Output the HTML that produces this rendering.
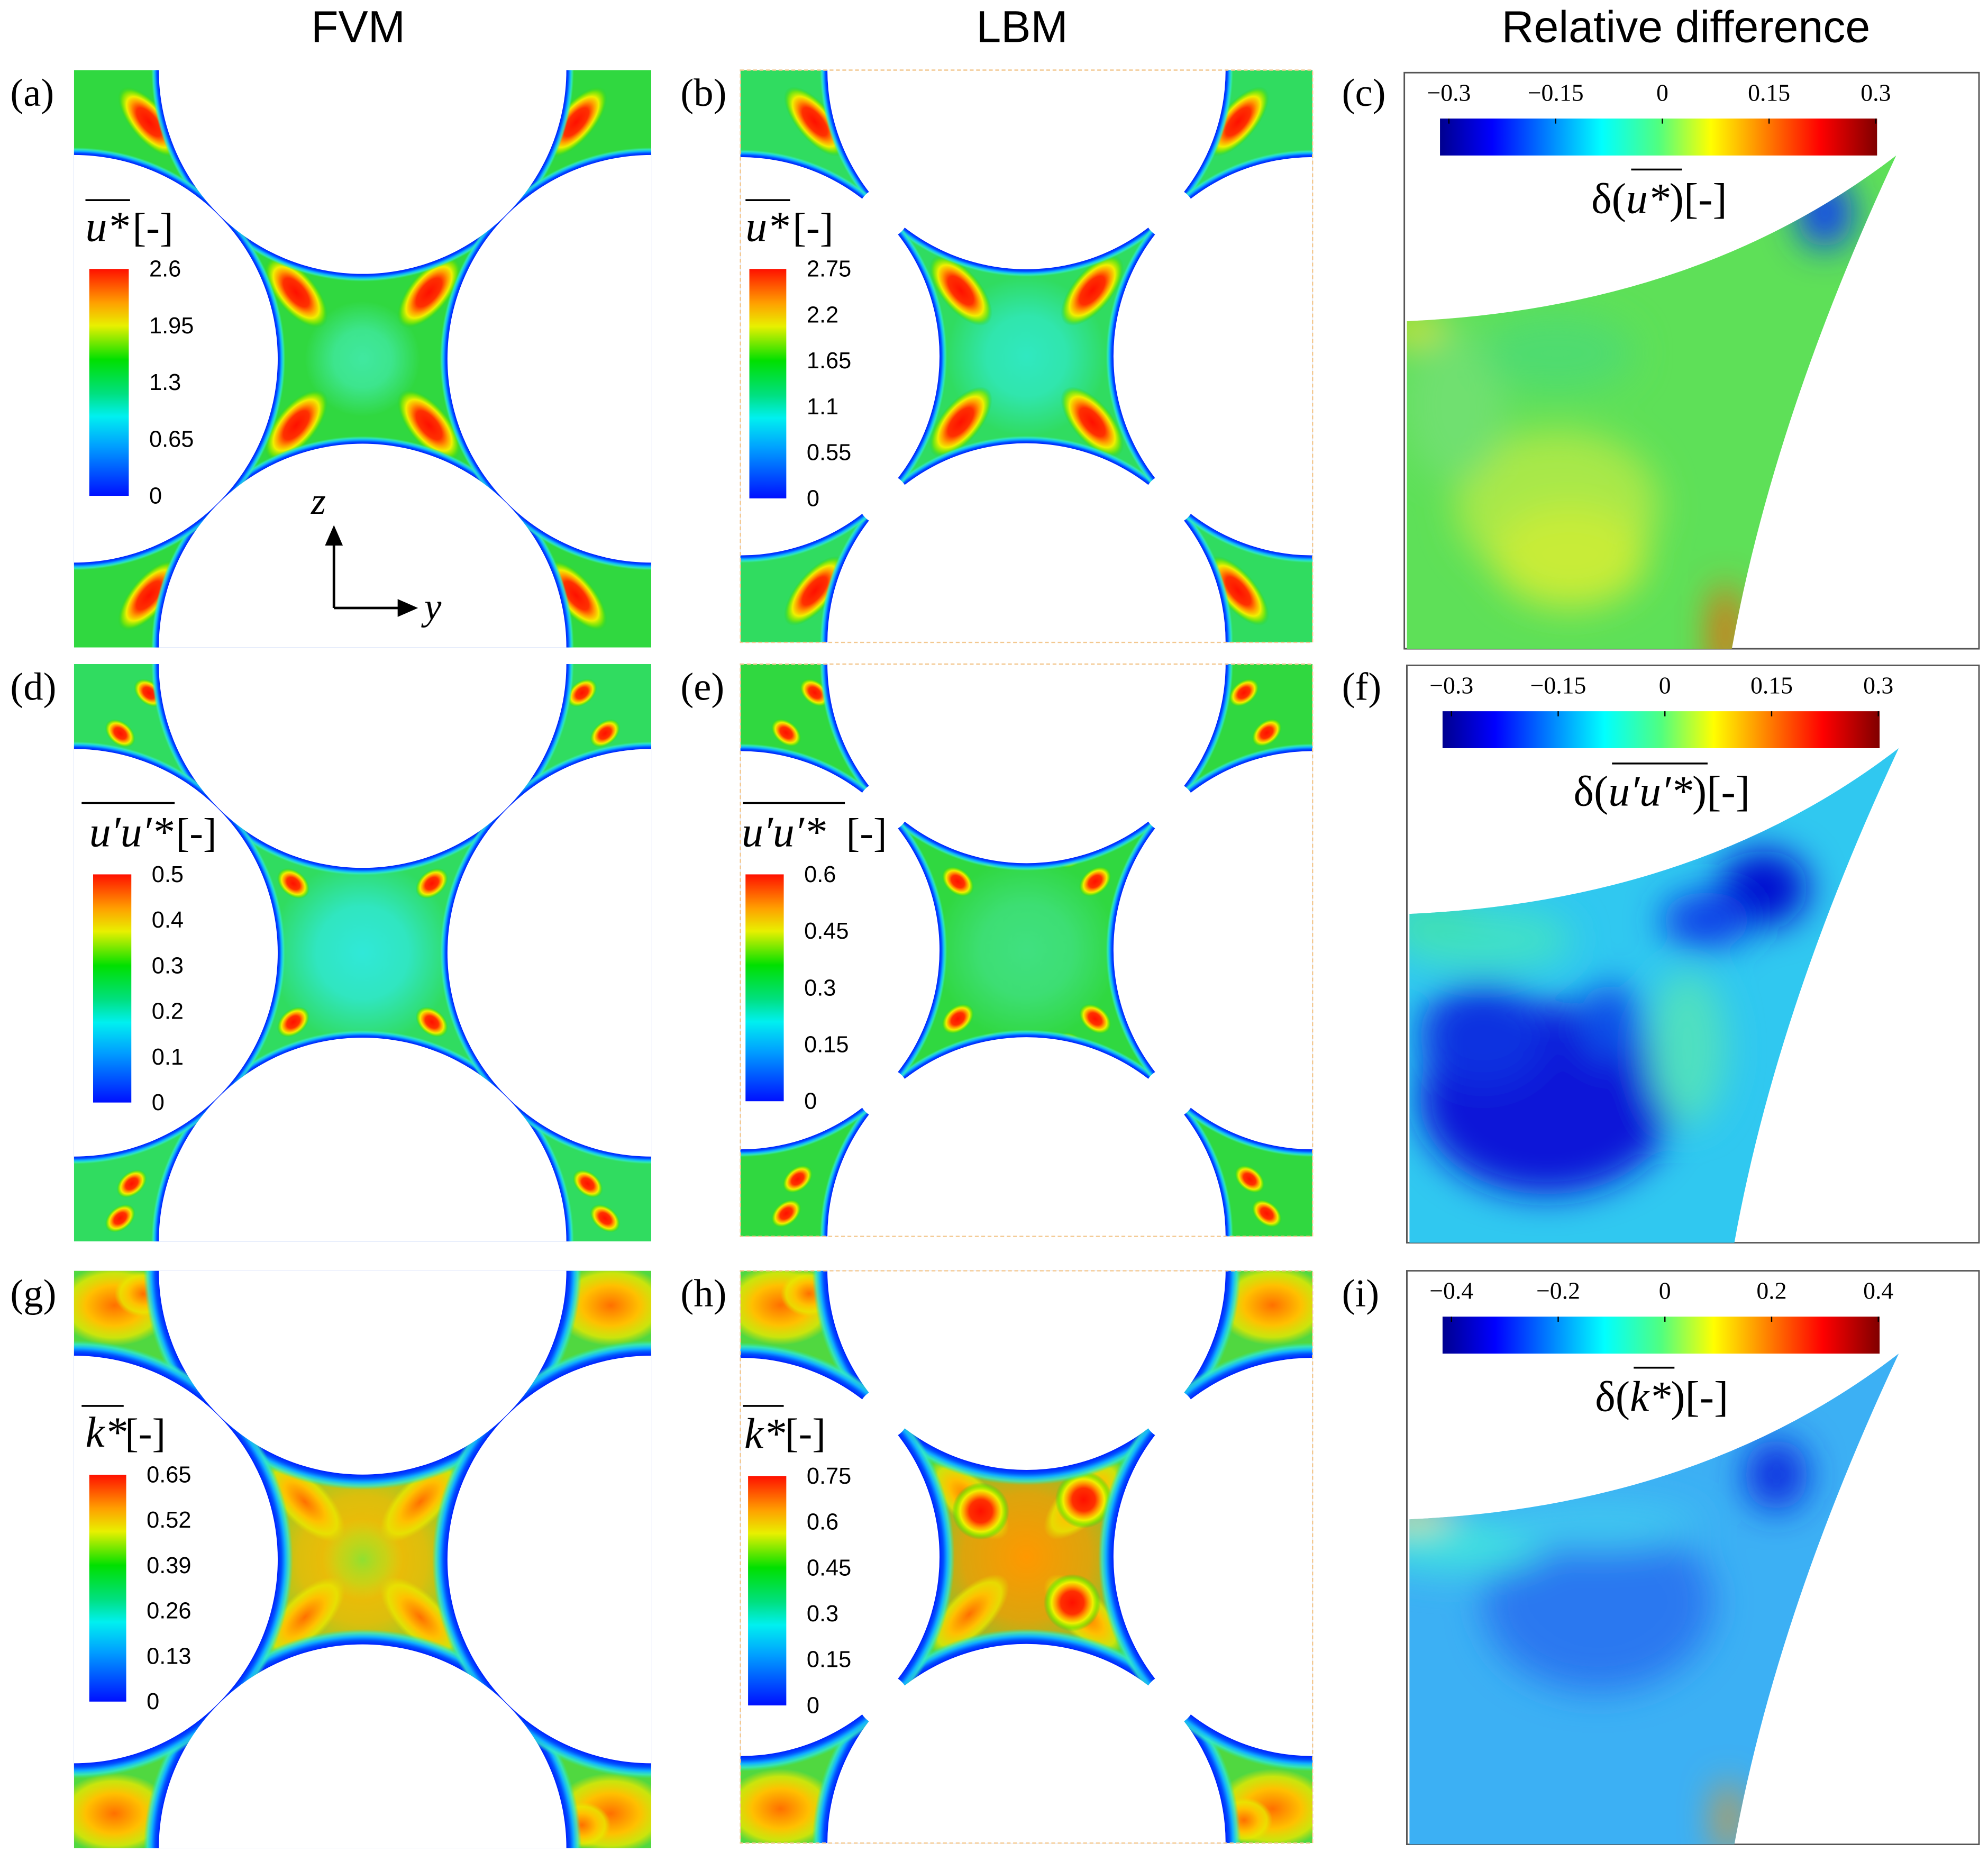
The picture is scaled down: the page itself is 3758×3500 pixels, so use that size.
<!DOCTYPE html>
<html><head><meta charset="utf-8"><style>
html,body{margin:0;padding:0;background:#fff;overflow:hidden;width:3758px;height:3500px;}
svg{display:block;}
.ser{font-family:"Liberation Serif",serif;}
.san{font-family:"Liberation Sans",sans-serif;}
</style></head><body>
<svg id="fig" width="3758" height="3500" viewBox="0 0 1560 1453" xmlns="http://www.w3.org/2000/svg">
<defs id="defs">
<linearGradient id="tec" x1="0" y1="1" x2="0" y2="0">
<stop offset="0" stop-color="#0010ff"/><stop offset="0.22" stop-color="#00a0ff"/><stop offset="0.35" stop-color="#00f0f0"/><stop offset="0.45" stop-color="#00e080"/><stop offset="0.6" stop-color="#00e000"/><stop offset="0.75" stop-color="#e8f000"/><stop offset="0.85" stop-color="#ffa000"/><stop offset="1" stop-color="#ff1000"/>
</linearGradient>
<linearGradient id="jet" x1="0" y1="0" x2="1" y2="0">
<stop offset="0" stop-color="#00008f"/><stop offset="0.12" stop-color="#0000ff"/><stop offset="0.37" stop-color="#00ffff"/><stop offset="0.5" stop-color="#50ff80"/><stop offset="0.62" stop-color="#ffff00"/><stop offset="0.87" stop-color="#ff0000"/><stop offset="1" stop-color="#800000"/>
</linearGradient>
<radialGradient id="hotR"><stop offset="0" stop-color="#ff1000"/><stop offset="0.4" stop-color="#ff3000"/><stop offset="0.58" stop-color="#ffa000"/><stop offset="0.72" stop-color="#f0f000"/><stop offset="0.86" stop-color="#80e800" stop-opacity="0.8"/><stop offset="1" stop-color="#20d020" stop-opacity="0"/></radialGradient>
<radialGradient id="hotY"><stop offset="0" stop-color="#ff7000"/><stop offset="0.5" stop-color="#ffc000"/><stop offset="0.8" stop-color="#e8e800" stop-opacity="0.8"/><stop offset="1" stop-color="#e0e000" stop-opacity="0"/></radialGradient>
<radialGradient id="grnIn"><stop offset="0" stop-color="#90e030"/><stop offset="0.6" stop-color="#b0e020" stop-opacity="0.6"/><stop offset="1" stop-color="#c0e020" stop-opacity="0"/></radialGradient>
<filter id="blur" x="-50%" y="-50%" width="200%" height="200%"><feGaussianBlur stdDeviation="14"/></filter>
</defs>
<g id="root"></g>
</svg>
<script>
const NS='http://www.w3.org/2000/svg';
const root=document.getElementById('root');
const defs=document.getElementById('defs');
function mk(tag,attrs,parent){const e=document.createElementNS(NS,tag);for(const k in attrs)e.setAttribute(k,attrs[k]);(parent||root).appendChild(e);return e;}

// ---- data arrays ----
const colTitles=['FVM','LBM','Relative difference'];
const panelLabels=['(a)','(b)','(c)','(d)','(e)','(f)','(g)','(h)','(i)'];
const ticksA=['2.6','1.95','1.3','0.65','0'];
const ticksB=['2.75','2.2','1.65','1.1','0.55','0'];
const ticksD=['0.5','0.4','0.3','0.2','0.1','0'];
const ticksE=['0.6','0.45','0.3','0.15','0'];
const ticksG=['0.65','0.52','0.39','0.26','0.13','0'];
const ticksH=['0.75','0.6','0.45','0.3','0.15','0'];
const diffTicks1=['\u22120.3','\u22120.15','0','0.15','0.3'];
const diffTicks3=['\u22120.4','\u22120.2','0','0.2','0.4'];

const colX=[281,802,1323];
colTitles.forEach((t,i)=>{const e=mk('text',{x:colX[i],y:33,'text-anchor':'middle','font-size':35,class:'san'});e.textContent=t;

});

const rowsY=[55,521,997];
const labX=[8,534,1053];
panelLabels.forEach((t,i)=>{const r=Math.floor(i/3),c=i%3;const e=mk('text',{x:labX[c],y:rowsY[r]+28,'font-size':31,class:'ser'});e.textContent=t;

});

let cid=0;
function flowPanel(x0,y0,L,R,lbm,style,name){
  const g=mk('g',{});
  
  
  const id='clip'+(cid++);
  const cp=mk('clipPath',{id:id},g);mk('rect',{x:x0,y:y0,width:L,height:L},cp);
  const cg=mk('radialGradient',{id:id+'c'},defs);
  mk('stop',{offset:0,'stop-color':style.center},cg);
  mk('stop',{offset:0.5,'stop-color':style.center,'stop-opacity':0.8},cg);
  mk('stop',{offset:1,'stop-color':style.center,'stop-opacity':0},cg);
  const band=style.wall*4, Ro=R+band;
  const wg=mk('radialGradient',{id:id+'w'},defs);
  const o=v=>(v/Ro).toFixed(4);
  mk('stop',{offset:o(R),'stop-color':'#0020ff'},wg);
  mk('stop',{offset:o(R+style.wall),'stop-color':'#0050ff'},wg);
  mk('stop',{offset:o(R+style.wall*2),'stop-color':'#10b0ff'},wg);
  mk('stop',{offset:o(R+style.wall*3),'stop-color':'#30e8d0','stop-opacity':0.8},wg);
  mk('stop',{offset:1,'stop-color':'#30e8a0','stop-opacity':0},wg);
  const c=mk('g',{'clip-path':'url(#'+id+')'},g);
  const cx=x0+L/2,cy=y0+L/2;
  mk('rect',{x:x0,y:y0,width:L,height:L,fill:style.bg},c);
  mk('circle',{cx:cx,cy:cy,r:L*style.cr,fill:'url(#'+id+'c)'},c);
  style.spots.forEach(s=>{
    const px=x0+s[0]*L,py=y0+s[1]*L;
    mk('ellipse',{cx:px,cy:py,rx:s[2]*L,ry:s[3]*L,fill:'url(#'+s[5]+')',transform:'rotate('+s[4]+' '+px+' '+py+')'},c);
  });
  if(style.inner)mk('circle',{cx:cx,cy:cy,r:L*0.07,fill:'url(#grnIn)'},c);
  const centers=[[cx,y0],[cx,y0+L],[x0,cy],[x0+L,cy]];
  centers.forEach(p=>mk('circle',{cx:p[0],cy:p[1],r:Ro,fill:'url(#'+id+'w)'},c));
  centers.forEach(p=>mk('circle',{cx:p[0],cy:p[1],r:R,fill:'#fff'},c));
  if(lbm){
    const d=L/4;
    [[cx-d,cy-d],[cx+d,cy-d],[cx-d,cy+d],[cx+d,cy+d]].forEach(p=>mk('circle',{cx:p[0],cy:p[1],r:L*0.045,fill:'#fff'},c));
    mk('rect',{x:x0,y:y0,width:L,height:L,fill:'none',stroke:'#f3c890','stroke-width':1,'stroke-dasharray':'3 2'},g);
  }
  return g;
}
function spotsU(){return [
 [0.13,0.09,0.075,0.032,50,'hotR'],[0.87,0.09,0.075,0.032,-50,'hotR'],[0.13,0.91,0.075,0.032,-50,'hotR'],[0.87,0.91,0.075,0.032,50,'hotR'],
 [0.385,0.385,0.075,0.035,50,'hotR'],[0.615,0.385,0.075,0.035,-50,'hotR'],[0.385,0.615,0.075,0.035,-50,'hotR'],[0.615,0.615,0.075,0.035,50,'hotR']];}
function spotsUU(){return [
 [0.08,0.12,0.03,0.02,40,'hotR'],[0.13,0.05,0.03,0.02,40,'hotR'],[0.92,0.12,0.03,0.02,-40,'hotR'],[0.88,0.05,0.03,0.02,-40,'hotR'],
 [0.1,0.9,0.03,0.02,-40,'hotR'],[0.08,0.96,0.03,0.02,-40,'hotR'],[0.89,0.9,0.03,0.02,40,'hotR'],[0.92,0.96,0.03,0.02,40,'hotR'],
 [0.38,0.38,0.032,0.022,40,'hotR'],[0.43,0.33,0.032,0.022,40,'hotR'],[0.62,0.38,0.032,0.022,-40,'hotR'],[0.58,0.33,0.032,0.022,-40,'hotR'],
 [0.38,0.62,0.032,0.022,-40,'hotR'],[0.43,0.67,0.032,0.022,-40,'hotR'],[0.62,0.62,0.032,0.022,40,'hotR'],[0.58,0.67,0.032,0.022,40,'hotR']];}
function spotsK(){return [
 [0.4,0.4,0.09,0.04,45,'hotY'],[0.6,0.4,0.09,0.04,-45,'hotY'],[0.4,0.6,0.09,0.04,-45,'hotY'],[0.6,0.6,0.09,0.04,45,'hotY'],
 [0.07,0.06,0.1,0.07,0,'hotY'],[0.93,0.06,0.1,0.07,0,'hotY'],[0.07,0.94,0.1,0.07,0,'hotY'],[0.93,0.94,0.1,0.07,0,'hotY'],
 [0.12,0.04,0.05,0.04,0,'hotY'],[0.88,0.96,0.05,0.04,0,'hotY']];}

const styles=[
 {bg:'#30d840',center:'#40e8a0',cr:0.1,wall:1.5,spots:spotsU()},
 {bg:'#30dc60',center:'#30e8d8',cr:0.16,wall:1.5,spots:spotsUU()},
 {bg:'#50d840',center:'#ffb800',cr:0.22,inner:true,wall:3,spots:spotsK()}
];
const fvmX=58,fvmL=453,lbmX=581,lbmL=449;
for(let r=0;r<3;r++){
  flowPanel(fvmX,rowsY[r],fvmL,fvmL*0.353,false,styles[r],'fvm-field-row'+(r+1));
  const s=Object.assign({},styles[r]);
  if(r===0){s.bg='#30dc60';s.center='#30e8c0';s.cr=0.14;}
  if(r===1){s.bg='#30d840';s.center='#40e080';}
  if(r===2){s.center='#ff9800';s.inner=false;s.spots=spotsK().concat([[0.42,0.42,0.05,0.05,0,'hotR'],[0.58,0.58,0.05,0.05,0,'hotR'],[0.6,0.4,0.05,0.05,0,'hotR']]);}
  flowPanel(lbmX,rowsY[r],lbmL,lbmL*0.348,true,s,'lbm-field-row'+(r+1));
}

function colorbar(x,y,w,h,ticks,title,name){
  const g=mk('g',{});
  
  
  mk('rect',{x:x,y:y,width:w,height:h,fill:'url(#tec)'},g);
  ticks.forEach((t,i)=>{const ty=y+i*h/(ticks.length-1);
    const e=mk('text',{x:x+w+16,y:ty+6,'font-size':18,class:'san'},g);e.textContent=t;});
  const tt=mk('text',{x:x-3,y:y-22,'font-size':34,class:'ser','font-style':'italic'},g);
  tt.textContent=title;
  return tt;
}
function overline(t,x1,x2,y){mk('line',{x1:x1,x2:x2,y1:y,y2:y,stroke:'#000','stroke-width':1.5});}
colorbar(70,211,31,178,ticksA,'u*','colorbar-a');
const ta=mk('text',{x:104,y:189,'font-size':32,class:'ser'});ta.textContent='[-]';overline(0,67,102,157);
colorbar(588,211,29,180,ticksB,'u*','colorbar-b');
const tb=mk('text',{x:622,y:189,'font-size':32,class:'ser'});tb.textContent='[-]';overline(0,585,620,157);
colorbar(73,686,30,179,ticksD,'u\u2032u\u2032*','colorbar-d');
const td=mk('text',{x:138,y:664,'font-size':32,class:'ser'});td.textContent='[-]';overline(0,64,137,630);
colorbar(585,686,30,178,ticksE,'u\u2032u\u2032*','colorbar-e');
const te=mk('text',{x:664,y:664,'font-size':32,class:'ser'});te.textContent='[-]';overline(0,583,663,630);
colorbar(70,1157,29,178,ticksG,'k*','colorbar-g');
const tg=mk('text',{x:98,y:1135,'font-size':32,class:'ser'});tg.textContent='[-]';overline(0,64,97,1103);
colorbar(587,1158,30,180,ticksH,'k*','colorbar-h');
const th=mk('text',{x:616,y:1135,'font-size':32,class:'ser'});th.textContent='[-]';overline(0,583,615,1103);

mk('line',{x1:262,y1:477,x2:262,y2:425,stroke:'#000','stroke-width':2});
mk('polygon',{points:'262,412 255,428 269,428',fill:'#000'});
mk('line',{x1:262,y1:477,x2:315,y2:477,stroke:'#000','stroke-width':2});
mk('polygon',{points:'328,477 312,470 312,484',fill:'#000'});
const az=mk('text',{x:244,y:403,'font-size':30,class:'ser','font-style':'italic'});az.textContent='z';


const ay=mk('text',{x:333,y:486,'font-size':30,class:'ser','font-style':'italic'});ay.textContent='y';



function diffPanel(x0,y0,w,h,ticks,label,base,blobs,name){
  const g=mk('g',{});
  
  
  mk('rect',{x:x0,y:y0,width:w,height:h,fill:'#fff',stroke:'#555','stroke-width':1.2},g);
  const id='clip'+(cid++);
  const cp=mk('clipPath',{id:id},g);
  const X=v=>x0+v,Y=v=>y0+v;
  mk('path',{d:`M${X(2)},${Y(195)} Q${X(230)},${Y(185)} ${X(386)},${Y(65)} Q${X(290)},${Y(270)} ${X(257)},${Y(h)} L${X(2)},${Y(h)} Z`},cp);
  const c=mk('g',{'clip-path':'url(#'+id+')'},g);
  mk('rect',{x:x0,y:y0,width:w,height:h,fill:base},c);
  const b=mk('g',{filter:'url(#blur)'},c);
  blobs.forEach(o=>mk('ellipse',{cx:X(o[0]),cy:Y(o[1]),rx:o[2],ry:o[3],fill:o[4]},b));
  mk('rect',{x:x0+28,y:y0+36,width:343,height:29,fill:'url(#jet)'},g);
  ticks.forEach((t,i)=>{const tx=x0+35+i*(335/(ticks.length-1));
    const e=mk('text',{x:tx,y:y0+22,'text-anchor':'middle','font-size':19,class:'ser'},g);e.textContent=t;
    mk('line',{x1:tx,x2:tx,y1:y0+36,y2:y0+40,stroke:'#000','stroke-width':1},g);});
  const l=mk('text',{x:x0+200,y:y0+110,'text-anchor':'middle','font-size':34,class:'ser'},g);
  l.innerHTML=label;
}
diffPanel(1102,57,451,452,diffTicks1,'δ(<tspan font-style="italic">u*</tspan>)[-]','#5ee058',
 [[120,340,80,60,'#a8e848'],[130,380,60,40,'#c8ec38'],[40,260,40,60,'#70e070'],[330,110,22,28,'#1040f0'],[252,440,10,40,'#ff5000'],[5,200,25,8,'#ffe000'],[120,220,60,30,'#50dc70']],'diff-panel-c');
overline(0,1280,1320,133);
diffPanel(1104,522,449,453,diffTicks1,'δ(<tspan font-style="italic">u′u′*</tspan>)[-]','#30c8f0',
 [[110,340,100,75,'#0818d8'],[60,290,50,40,'#1030e0'],[280,175,35,30,'#0010d0'],[235,200,35,22,'#1040e8'],[220,300,30,60,'#50e0c0'],[60,215,70,25,'#40e0c8'],[160,280,25,30,'#1050e8'],[20,200,40,15,'#40e0b0']],'diff-panel-f');
overline(0,1265,1340,599);
diffPanel(1104,997,449,450,diffTicks3,'δ(<tspan font-style="italic">k*</tspan>)[-]','#3cb0f4',
 [[290,160,25,28,'#1030e0'],[150,260,90,70,'#2a78f0'],[40,215,70,22,'#40e0e0'],[150,200,80,18,'#40c8f0'],[252,430,8,30,'#ff9000'],[5,192,30,7,'#ffe000']],'diff-panel-i');
overline(0,1282,1314,1073);
</script>
</body></html>
